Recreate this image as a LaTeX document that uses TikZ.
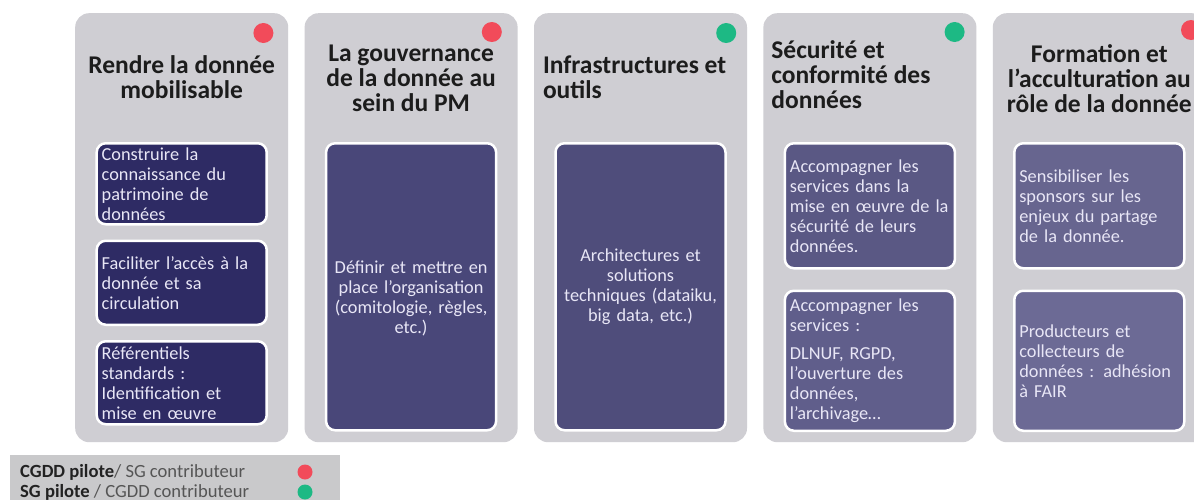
\documentclass[tikz,border=0pt]{standalone}
\usepackage{tikz}
\usetikzlibrary{positioning}
\usepackage{xcolor}
\usepackage{fontspec}
\setmainfont{Carlito}

\definecolor{panelgray}{HTML}{CFCED3}
\definecolor{titleblack}{HTML}{1C1C1C}
\definecolor{tasktext}{HTML}{E8E6F6}
\definecolor{navyA}{HTML}{2E2B64}
\definecolor{navyB}{HTML}{494779}
\definecolor{navyC}{HTML}{4F4D7B}
\definecolor{navyD}{HTML}{5A5884}
\definecolor{navyE}{HTML}{605E8B}
\definecolor{navyF}{HTML}{67658F}
\definecolor{navyG}{HTML}{6C6A95}
\definecolor{pilotred}{HTML}{F24B5A}
\definecolor{pilotgreen}{HTML}{1DB984}
\definecolor{keygray}{HTML}{C9C9CB}
\definecolor{keytext}{HTML}{555555}
\definecolor{keybold}{HTML}{222222}

\begin{document}
\begin{tikzpicture}[x=1pt, y=-1pt,
  panel/.style={fill=panelgray, rounded corners=14pt, minimum width=213pt, minimum height=429pt, inner sep=0pt},
  title/.style={font=\fontsize{25.5}{25}\selectfont\bfseries, text=titleblack, align=center, inner sep=0pt},
  task/.style={draw=white, line width=2.5pt, rounded corners=9pt, text=tasktext, font=\fontsize{18.3}{20}\selectfont, minimum width=170pt, text width=160pt, inner xsep=5pt, inner ysep=2pt, align=left},
  dot/.style={circle, minimum size=20pt, inner sep=0pt},
  keydot/.style={circle, minimum size=15pt, inner sep=0pt},
  keyline/.style={font=\fontsize{18.6}{20}\selectfont, text=keytext, anchor=west, inner sep=0pt}
]

\useasboundingbox[fill=white] (0,0) rectangle (1194,499);

\node[panel, anchor=north west] (axe1) at (75,13) {};
\node[panel, right=16pt of axe1] (axe2) {};
\node[panel, right=16pt of axe2] (axe3) {};
\node[panel, right=16pt of axe3] (axe4) {};
\node[panel, right=16pt of axe4] (axe5) {};

\node[title] (t1) at ([yshift=-64pt]axe1.north) {Rendre la donnée\\mobilisable};
\node[title] (t2) at ([yshift=-65pt]axe2.north) {La gouvernance\\de la donnée au\\sein du PM};
\node[title, anchor=west, align=left] (t3) at ([xshift=9pt, yshift=-64pt]axe3.north west) {Infrastructures et\\outils};
\node[title, anchor=west, align=left] (t4) at ([xshift=8pt, yshift=-62pt]axe4.north west) {Sécurité et\\conformité des\\données};
\node[title] (t5) at ([yshift=-66pt]axe5.north) {Formation et\\l’acculturation au\\rôle de la donnée};

\node[dot, fill=pilotred] (d1) at ([xshift=-25pt, yshift=-20pt]axe1.north east) {};
\node[dot, fill=pilotred] (d2) at ([xshift=-26pt, yshift=-19pt]axe2.north east) {};
\node[dot, fill=pilotgreen] (d3) at ([xshift=-21pt, yshift=-20pt]axe3.north east) {};
\node[dot, fill=pilotgreen] (d4) at ([xshift=-22pt, yshift=-19pt]axe4.north east) {};
\node[dot, fill=pilotred] (d5) at ([xshift=-15pt, yshift=-17pt]axe5.north east) {};

\node[task, fill=navyA, minimum height=81pt, below=129pt of axe1.north] (a1) {Construire la\\connaissance du\\patrimoine de\\données};
\node[task, fill=navyA, minimum height=84pt, below=14pt of a1] (a2) {Faciliter l’accès à la\\donnée et sa\\circulation};
\node[task, fill=navyA, minimum height=83pt, below=14pt of a2] (a3) {Référentiels\\standards :\\Identification et\\mise en œuvre};

\node[task, fill=navyB, align=center, minimum height=287pt, text height=36pt, below=129pt of axe2.north] (b1) {Définir et mettre en\\place l’organisation\\(comitologie, règles,\\etc.)};

\node[task, fill=navyC, align=center, minimum height=287pt, below=129pt of axe3.north] (c1) {Architectures et\\solutions\\techniques (dataiku,\\big data, etc.)};

\node[task, fill=navyD, minimum height=125pt, below=129pt of axe4.north] (e1) {Accompagner les\\services dans la\\mise en œuvre de la\\sécurité de leurs\\données.};
\node[task, fill=navyE, minimum height=140pt, below=20pt of e1] (e2) {Accompagner les\\services :\\[8pt]DLNUF, RGPD,\\l’ouverture des\\données,\\l’archivage…};

\node[task, fill=navyF, minimum height=125pt, below=129pt of axe5.north] (f1) {Sensibiliser les\\sponsors sur les\\enjeux du partage\\de la donnée.};
\node[task, fill=navyG, minimum height=140pt, below=20pt of f1] (f2) {Producteurs et\\collecteurs de\\données : adhésion\\à FAIR};

\node[fill=keygray, minimum width=330pt, minimum height=60pt, inner sep=0pt, anchor=north west] (key) at (10,455) {};
\node[keyline] (k1) at (20,472) {\textcolor{keybold}{\bfseries CGDD pilote}/ SG contributeur};
\node[keyline] (k2) at (20,492) {\textcolor{keybold}{\bfseries SG pilote} / CGDD contributeur};
\node[keydot, fill=pilotred] (kr) at (305,472) {};
\node[keydot, fill=pilotgreen] (kg) at (305,492) {};

\end{tikzpicture}
\end{document}
